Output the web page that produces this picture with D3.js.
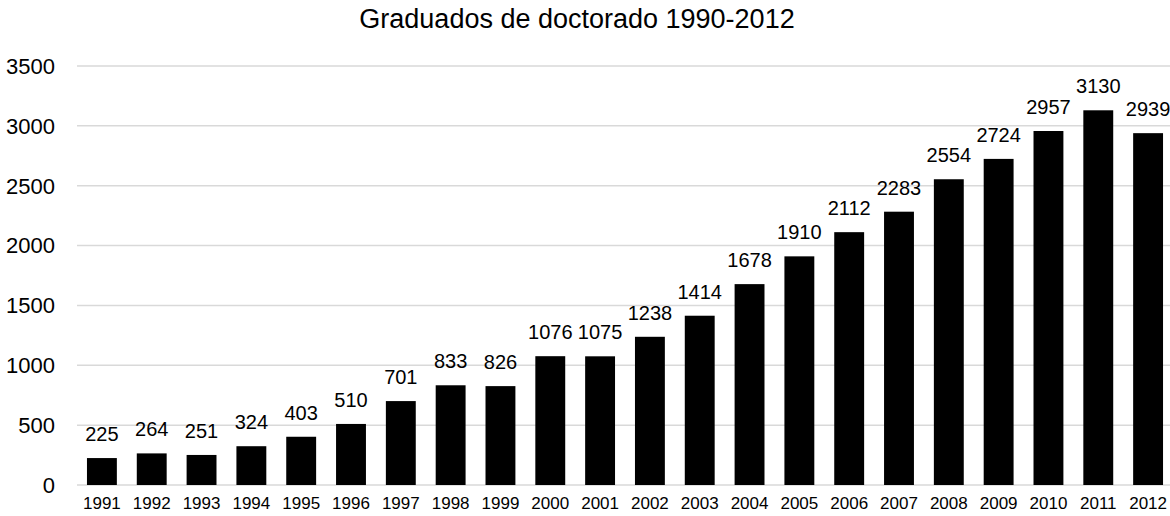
<!DOCTYPE html>
<html>
<head>
<meta charset="utf-8">
<script src="https://cdn.jsdelivr.net/npm/d3@7"></script>
<style>
  body { margin: 0; background: #fff; }
  text { font-family: "Liberation Sans", Arial, sans-serif; fill: #000; }
</style>
</head>
<body>
<div id="viz"></div>
<script>
const years = ["1991","1992","1993","1994","1995","1996","1997","1998","1999","2000","2001",
  "2002","2003","2004","2005","2006","2007","2008","2009","2010","2011","2012"];
const graduates = [225, 264, 251, 324, 403, 510, 701, 833, 826, 1076, 1075,
  1238, 1414, 1678, 1910, 2112, 2283, 2554, 2724, 2957, 3130, 2939];
const yTicks = [0, 500, 1000, 1500, 2000, 2500, 3000, 3500];
const chartTitle = "Graduados de doctorado 1990-2012";

const width = 1170, height = 516;
const plot = { left: 77, right: 1173, top: 66, bottom: 485 };

const svg = d3.select("#viz")
  .append("svg")
  .attr("width", width)
  .attr("height", height);

const x = d3.scaleBand()
  .domain(years)
  .range([plot.left, plot.right])
  .paddingInner(0.4)
  .paddingOuter(0.2);

const y = d3.scaleLinear()
  .domain([0, 3500])
  .range([plot.bottom, plot.top]);

// gridlines
svg.append("g")
  .selectAll("line")
  .data(yTicks)
  .join("line")
  .attr("x1", plot.left)
  .attr("x2", width)
  .attr("y1", d => y(d))
  .attr("y2", d => y(d))
  .attr("stroke", "#d9d9d9")
  .attr("stroke-width", 1.5);

// y labels
svg.append("g")
  .selectAll("text")
  .data(yTicks)
  .join("text")
  .attr("x", 55)
  .attr("y", d => y(d))
  .attr("dy", "0.36em")
  .attr("text-anchor", "end")
  .style("font-size", "22px")
  .text(d => d);

const data = years.map((yr, i) => ({ year: yr, value: graduates[i] }));

// bars
svg.append("g")
  .selectAll("rect")
  .data(data)
  .join("rect")
  .attr("x", d => x(d.year))
  .attr("y", d => y(d.value))
  .attr("width", x.bandwidth())
  .attr("height", d => y(0) - y(d.value))
  .attr("fill", "#000");

// value labels
svg.append("g")
  .selectAll("text")
  .data(data)
  .join("text")
  .attr("x", d => x(d.year) + x.bandwidth() / 2)
  .attr("y", d => y(d.value) - 17)
  .attr("text-anchor", "middle")
  .style("font-size", "20px")
  .text(d => d.value);

// x labels
svg.append("g")
  .selectAll("text")
  .data(years)
  .join("text")
  .attr("x", d => x(d) + x.bandwidth() / 2)
  .attr("y", 509)
  .attr("text-anchor", "middle")
  .style("font-size", "17px")
  .text(d => d);

svg.append("text")
  .attr("x", 577)
  .attr("y", 28)
  .attr("text-anchor", "middle")
  .style("font-size", "27px")
  .text(chartTitle);
</script>
</body>
</html>
